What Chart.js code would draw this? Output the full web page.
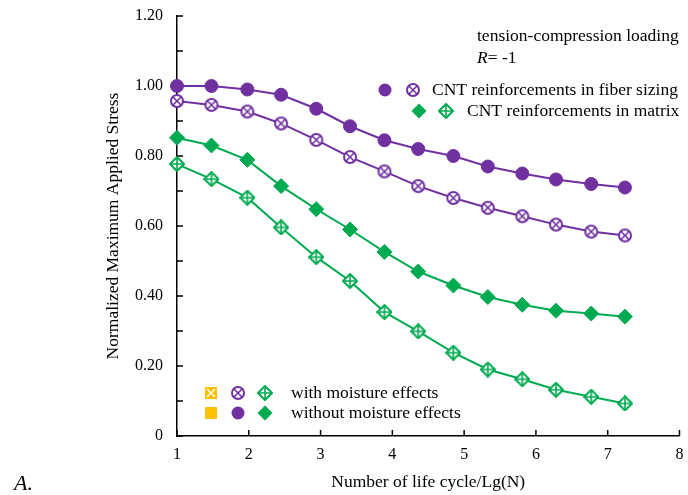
<!DOCTYPE html>
<html>
<head>
<meta charset="utf-8">
<script src="https://cdn.jsdelivr.net/npm/chart.js@4.4.0/dist/chart.umd.min.js"></script>
<style>
  html, body { margin: 0; padding: 0; background: #fff; }
  #wrap { width: 688px; height: 495px; }
</style>
</head>
<body>
<div id="wrap"><canvas id="fatigueChart" width="688" height="495"></canvas></div>
<script>
// Lg(N) positions of the test points
const cycles = [1, 1.48, 1.98, 2.45, 2.94, 3.41, 3.89, 4.36, 4.85, 5.33, 5.81, 6.28, 6.77, 7.24];

// CNT in fiber sizing
const fiberDry = [1.00, 1.00, 0.99, 0.975, 0.935, 0.885, 0.845, 0.82, 0.80, 0.77, 0.75, 0.733, 0.72, 0.71];
const fiberWet = [0.957, 0.946, 0.927, 0.893, 0.846, 0.797, 0.756, 0.714, 0.68, 0.652, 0.628, 0.604, 0.584, 0.573];

// CNT in matrix
const matrixDry = [0.852, 0.83, 0.789, 0.714, 0.648, 0.59, 0.526, 0.47, 0.43, 0.397, 0.375, 0.358, 0.35, 0.341];
const matrixWet = [0.777, 0.734, 0.681, 0.596, 0.511, 0.443, 0.354, 0.299, 0.238, 0.19, 0.162, 0.132, 0.112, 0.093];

const PURPLE = '#7030a0';
const GREEN = '#00aa50';
const GOLD = '#ffc000';
const FONT = '"Liberation Serif", "Times New Roman", serif';

Chart.defaults.font.family = FONT;
Chart.defaults.color = '#000';

function makeMarker(shape, color) {
    const c = document.createElement('canvas');
    c.width = 16; c.height = 16;
    const g = c.getContext('2d');
    const m = 8;
    g.strokeStyle = color;
    g.fillStyle = '#fff';
    g.lineWidth = 2;
    if (shape === 'circle') {
        g.beginPath(); g.arc(m, m, 6, 0, Math.PI * 2); g.fill(); g.stroke();
        g.lineWidth = 1.6;
        g.beginPath();
        g.moveTo(m - 4, m - 4); g.lineTo(m + 4, m + 4);
        g.moveTo(m + 4, m - 4); g.lineTo(m - 4, m + 4);
        g.stroke();
    } else if (shape === 'diamond') {
        g.beginPath();
        g.moveTo(m, 1); g.lineTo(15, m); g.lineTo(m, 15); g.lineTo(1, m);
        g.closePath(); g.fill(); g.stroke();
        g.lineWidth = 1.6;
        g.beginPath();
        g.moveTo(m, 2); g.lineTo(m, 14);
        g.moveTo(2, m); g.lineTo(14, m);
        g.stroke();
    } else {
        g.fillStyle = color;
        g.fillRect(2, 2, 12, 12);
        g.strokeStyle = '#fff';
        g.lineWidth = 1.4;
        g.beginPath();
        g.moveTo(4, 4); g.lineTo(12, 12);
        g.moveTo(12, 4); g.lineTo(4, 12);
        g.stroke();
    }
    return c;
}

const wetCircle = makeMarker('circle', PURPLE);
const wetDiamond = makeMarker('diamond', GREEN);
const wetSquare = makeMarker('square', GOLD);

const toPoints = vals => vals.map((v, i) => ({ x: cycles[i], y: v }));

function series(label, vals, color, style, radius) {
    return {
        label: label,
        data: toPoints(vals),
        borderColor: color,
        backgroundColor: color,
        borderWidth: 2,
        pointStyle: style,
        pointRadius: radius,
        pointBorderWidth: 1,
        pointBorderColor: color,
        pointBackgroundColor: color,
        tension: 0,
        clip: false
    };
}

// draws inward tick marks and the annotation / legend block
const decorations = {
    id: 'decorations',
    beforeDatasetsDraw(chart) {
        const { ctx, chartArea: a, scales: { x, y } } = chart;
        ctx.save();
        ctx.strokeStyle = '#000';
        ctx.lineWidth = 1.5;
        ctx.beginPath();
        y.ticks.forEach(t => {
            const py = y.getPixelForValue(t.value);
            ctx.moveTo(a.left, py); ctx.lineTo(a.left + 6, py);
        });
        x.ticks.forEach(t => {
            const px = x.getPixelForValue(t.value);
            ctx.moveTo(px, a.bottom); ctx.lineTo(px, a.bottom - 6);
        });
        ctx.stroke();
        ctx.restore();
    },
    afterDraw(chart) {
        const ctx = chart.ctx;
        const img = (c, cx, cy) => ctx.drawImage(c, cx - 8, cy - 8);
        const dot = (cx, cy) => { ctx.fillStyle = PURPLE; ctx.beginPath(); ctx.arc(cx, cy, 6.5, 0, Math.PI * 2); ctx.fill(); };
        const diamond = (cx, cy) => {
            ctx.fillStyle = GREEN; ctx.beginPath();
            ctx.moveTo(cx, cy - 7.5); ctx.lineTo(cx + 7.5, cy); ctx.lineTo(cx, cy + 7.5); ctx.lineTo(cx - 7.5, cy);
            ctx.closePath(); ctx.fill();
        };
        ctx.save();
        ctx.textBaseline = 'middle';
        ctx.textAlign = 'left';
        ctx.fillStyle = '#000';
        ctx.font = '17.5px ' + FONT;
        ctx.fillText('tension-compression loading', 477, 36);
        ctx.font = 'italic 17.5px ' + FONT;
        ctx.fillText('R', 477, 58);
        const rw = ctx.measureText('R').width;
        ctx.font = '17.5px ' + FONT;
        ctx.fillText('= -1', 477 + rw, 58);

        dot(385, 90); img(wetCircle, 413, 90);
        ctx.fillStyle = '#000';
        ctx.fillText('CNT reinforcements in fiber sizing', 432, 90);
        diamond(419, 111); img(wetDiamond, 446, 111);
        ctx.fillStyle = '#000';
        ctx.fillText('CNT reinforcements in matrix', 467, 111);

        img(wetSquare, 211, 393); img(wetCircle, 238, 393); img(wetDiamond, 265, 393);
        ctx.fillStyle = '#000';
        ctx.fillText('with moisture effects', 291, 393);
        ctx.fillStyle = GOLD; ctx.fillRect(205, 407, 12, 12);
        dot(238, 413); diamond(265, 413);
        ctx.fillStyle = '#000';
        ctx.fillText('without moisture effects', 291, 413);

        ctx.font = 'italic 22px ' + FONT;
        ctx.fillText('A.', 14, 484);
        ctx.restore();
    }
};

new Chart(document.getElementById('fatigueChart').getContext('2d'), {
    type: 'line',
    data: {
        datasets: [
            series('fiber sizing, without moisture', fiberDry, PURPLE, 'circle', 6.5),
            series('fiber sizing, with moisture', fiberWet, PURPLE, wetCircle, 6.5),
            series('matrix, without moisture', matrixDry, GREEN, 'rectRot', 7.5),
            series('matrix, with moisture', matrixWet, GREEN, wetDiamond, 7.5)
        ]
    },
    options: {
        responsive: false,
        animation: false,
        devicePixelRatio: 1,
        layout: { padding: { left: 0, right: 4, top: 16, bottom: 0 } },
        plugins: { legend: { display: false }, tooltip: { enabled: false } },
        scales: {
            x: {
                type: 'linear',
                min: 1,
                max: 8,
                afterFit: s => { s.height = 59; },
                grid: { display: false },
                border: { display: true, color: '#000', width: 1.5 },
                ticks: { stepSize: 1, padding: 1.5, font: { size: 16 } },
                title: {
                    display: true,
                    text: 'Number of life cycle/Lg(N)',
                    font: { size: 17.5 },
                    padding: { top: 0, bottom: 2.5 }
                }
            },
            y: {
                min: 0,
                max: 1.2,
                afterFit: s => { s.width = 177; s.paddingTop = 0; s.paddingBottom = 0; },
                grid: { display: false },
                border: { display: true, color: '#000', width: 1.5 },
                ticks: {
                    stepSize: 0.1,
                    padding: 6,
                    font: { size: 16 },
                    callback: v => {
                        const k = Math.round(v * 10);
                        if (k % 2) return '';
                        return k === 0 ? '0' : (k / 10).toFixed(2);
                    }
                },
                title: {
                    display: true,
                    text: 'Normalized Maximum Applied Stress',
                    font: { size: 17.5 },
                    padding: { top: 103, bottom: 0 }
                }
            }
        }
    },
    plugins: [decorations]
});
</script>
</body>
</html>
